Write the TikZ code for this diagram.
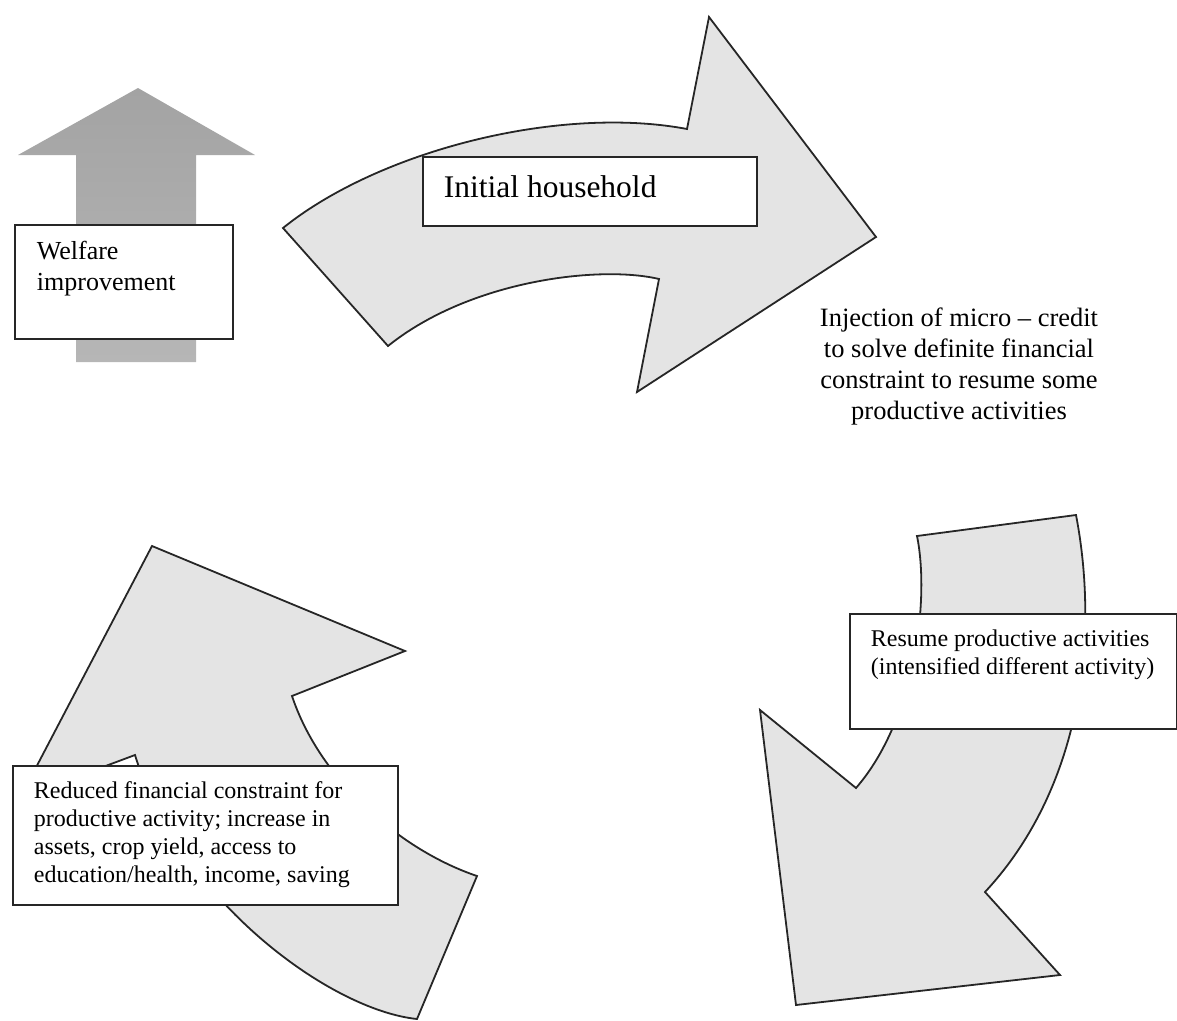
\documentclass[tikz,border=0pt]{standalone}
\usepackage{fontspec}
\setmainfont{Liberation Serif}
\definecolor{arrowgray}{RGB}{228,228,228}
\definecolor{uptop}{RGB}{163,163,163}
\definecolor{upbottom}{RGB}{182,182,182}
\newcommand\boxbody[5]{\begin{minipage}[c][#1][t]{#2}\raggedright\leftskip=#3\relax\rule{0pt}{#4}#5\end{minipage}}
\begin{document}
\begin{tikzpicture}[x=1pt,y=-1pt,
  arrowshape/.style={draw=black!85, line width=1.8pt, fill=arrowgray, line join=miter},
  upshape/.style={top color=uptop, bottom color=upbottom, draw=none},
  tbox/.style={draw=black!85, line width=1.8pt, fill=white, inner sep=0pt, anchor=north west},
  freetext/.style={inner sep=0pt, anchor=north}]
\useasboundingbox (0,0) rectangle (1177,1020);

% up arrow (welfare)
\path[upshape] (76,362) -- (76,155) -- (18,155) -- (138,88) -- (255,155) -- (196,155) -- (196,362) -- cycle;

% top curved arrow
\draw[arrowshape] (283,228) .. controls (380,150) and (560,105) .. (687,129) -- (709,17) -- (876,237) -- (637,392) -- (659,279) .. controls (600,265) and (470,280) .. (388,346) -- cycle;

\node[tbox, font=\fontsize{31.5}{37}\selectfont] (initial) at (422,156)
  {\boxbody{69pt}{334pt}{21pt}{40.7pt}{Initial household}};

\node[tbox, font=\fontsize{26}{31}\selectfont] (welfare) at (14,224)
  {\boxbody{114pt}{218pt}{22pt}{35pt}{Welfare\\improvement}};

\node[freetext, font=\fontsize{26.5}{31}\selectfont] (injection) at (959,296)
  {\begin{minipage}[t]{330pt}\centering\rule{0pt}{30pt}Injection of micro -- credit\\to solve definite financial\\constraint to resume some\\productive activities\end{minipage}};

% bottom-right curved arrow
\draw[arrowshape] (917,536) -- (1076,515) .. controls (1100,640) and (1080,790) .. (985,892) -- (1060,975) -- (796,1005) -- (760,710) -- (856,788) .. controls (915,720) and (930,600) .. (917,536) -- cycle;

\node[tbox, font=\fontsize{24}{27.5}\selectfont] (resume) at (849,613)
  {\boxbody{115pt}{327pt}{21pt}{33pt}{Resume productive activities\\(intensified different activity)}};

% bottom-left curved arrow
\draw[arrowshape] (152,546) -- (405,651) -- (292,696) .. controls (320,780) and (400,850) .. (477,876) -- (417,1019) .. controls (330,1010) and (180,900) .. (135,755) -- (20,798) -- cycle;

\node[tbox, font=\fontsize{24}{28}\selectfont] (reduced) at (12,765)
  {\boxbody{139pt}{385pt}{21pt}{33pt}{Reduced financial constraint for\\productive activity; increase in\\assets, crop yield, access to\\education/health, income, saving}};
\end{tikzpicture}
\end{document}
